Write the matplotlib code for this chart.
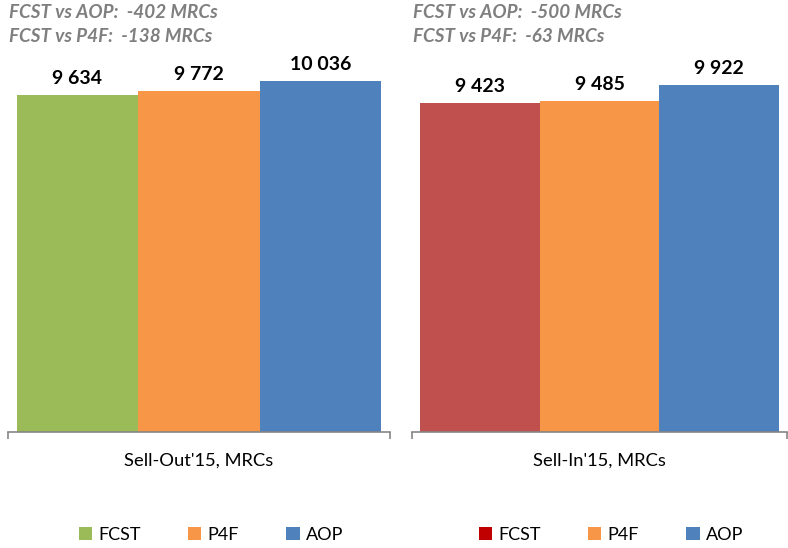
import matplotlib
matplotlib.use("Agg")
import matplotlib.pyplot as plt
from matplotlib.patches import Patch

plt.rcParams['font.family'] = ['Lato', 'DejaVu Sans']

# series names and the two panels' values (MRCs)
series = ['FCST', 'P4F', 'AOP']
sell_out = [9634, 9772, 10036]
sell_in = [9423, 9485, 9922]
panel_titles = ["Sell-Out'15, MRCs", "Sell-In'15, MRCs"]
gap_notes = [["FCST vs AOP:  -402 MRCs", "FCST vs P4F:  -138 MRCs"],
             ["FCST vs AOP:  -500 MRCs", "FCST vs P4F:  -63 MRCs"]]

bar_colors = [['#9BBB59', '#F79646', '#4F81BD'],
              ['#C0504D', '#F79646', '#4F81BD']]
legend_colors = [['#9BBB59', '#F79646', '#4F81BD'],
                 ['#C00000', '#F79646', '#4F81BD']]

W, H = 788, 548
fig = plt.figure(figsize=(W / 100, H / 100), dpi=100)

base_y = 431.7          # pixel row of the category axis
ymax = 11000
ax_h = ymax * 0.0349    # px per MRC

panels = [(8, 390), (412, 787)]
legend_cx = [211, 611]

for i, (vals, (x0, x1)) in enumerate(zip([sell_out, sell_in], panels)):
    ax = fig.add_axes([x0 / W, (H - base_y) / H, (x1 - x0) / W, ax_h / H])
    xs = range(len(vals))
    bars = ax.bar(xs, vals, width=1.0, color=bar_colors[i], linewidth=0)
    ax.set_xlim(-0.57, 2.57)
    ax.set_ylim(0, ymax)
    for s in ['top', 'right', 'left']:
        ax.spines[s].set_visible(False)
    ax.spines['bottom'].set_color('#868686')
    ax.spines['bottom'].set_linewidth(1.2)
    ax.set_yticks([])
    ax.set_xticks([-0.57, 2.57])
    ax.set_xticklabels([])
    ax.tick_params(axis='x', length=5, width=1.2, color='#868686', direction='out')

    for b, v in zip(bars, vals):
        ax.annotate(f"{v:,}".replace(",", " "),
                    (b.get_x() + b.get_width() / 2, v),
                    xytext=(0, 8), textcoords='offset points',
                    ha='center', va='baseline', fontsize=14, fontweight='bold',
                    color='black')

    # category name under the axis
    fig.text((x0 + x1) / 2 / W, 1 - 461 / H, panel_titles[i],
             ha='center', va='center', fontsize=13.2, color='black')

    # FCST gap notes at the top
    for j, note in enumerate(gap_notes[i]):
        fig.text((x0 + 1) / W, 1 - (12 + 24 * j) / H, note,
                 ha='left', va='center', fontsize=13.6, fontweight='bold',
                 fontstyle='italic', color='#7F7F7F')

    handles = [Patch(facecolor=c, edgecolor='none') for c in legend_colors[i]]
    fig.legend(handles, series, loc='center', ncol=3, frameon=False,
               bbox_to_anchor=(legend_cx[i] / W, 1 - 535 / H),
               fontsize=13, handlelength=0.75, handleheight=0.75,
               handletextpad=0.35, columnspacing=2.6)

fig.savefig('out.png', dpi=100, facecolor='white')
